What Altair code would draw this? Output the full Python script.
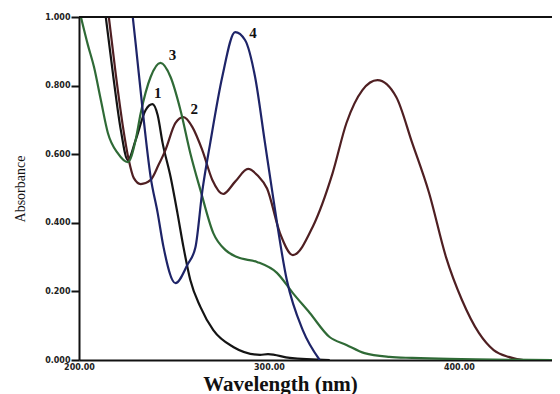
import altair as alt
import pandas as pd

# Curve 1 (black)
wl1 = [214.1, 218.3, 222.0, 225.7, 229.8, 235.1, 238.7, 241.4, 244.0, 248.2, 251.8, 255.0,
       258.6, 263.9, 270.7, 281.2, 295.3, 299.5, 311.0, 332.0]
a1 = [1.0, 0.816, 0.671, 0.583, 0.641, 0.729, 0.746, 0.714, 0.633, 0.534, 0.429, 0.329,
      0.233, 0.155, 0.087, 0.038, 0.015, 0.017, 0.006, 0.0]

# Curve 2 (dark red)
wl2 = [215.7, 219.4, 223.0, 226.2, 228.8, 232.5, 237.7, 241.9, 245.5, 250.8, 255.0, 259.7,
       264.9, 270.2, 275.9, 282.2, 289.0, 294.2, 299.0, 305.8, 312.6, 323.0, 333.5, 340.8,
       349.2, 357.1, 367.0, 375.4, 384.3, 393.2, 401.6, 410.5, 418.3, 426.2, 434.0, 449.0]
a2 = [1.0, 0.831, 0.685, 0.583, 0.531, 0.513, 0.525, 0.569, 0.612, 0.691, 0.708, 0.679,
      0.612, 0.525, 0.484, 0.520, 0.557, 0.537, 0.500, 0.370, 0.306, 0.388, 0.545, 0.691,
      0.787, 0.816, 0.767, 0.633, 0.487, 0.300, 0.175, 0.079, 0.029, 0.009, 0.0, 0.0]

# Curve 3 (green)
wl3 = [201.0, 204.7, 207.9, 211.5, 215.2, 220.4, 225.7, 229.8, 232.5, 237.7, 242.9, 248.2,
       253.4, 258.6, 263.9, 270.7, 277.0, 283.2, 293.7, 304.2, 312.6, 321.5, 331.9, 340.8,
       350.3, 363.4, 375.4, 394.8, 449.0]
a3 = [1.0, 0.918, 0.854, 0.758, 0.662, 0.603, 0.577, 0.641, 0.720, 0.825, 0.866, 0.825,
      0.729, 0.603, 0.496, 0.370, 0.321, 0.300, 0.286, 0.254, 0.195, 0.137, 0.067, 0.044,
      0.020, 0.009, 0.006, 0.003, 0.0]

# Curve 4 (blue)
wl4 = [228.3, 229.8, 233.5, 237.7, 241.4, 244.5, 250.8, 257.0, 261.3, 265.0, 269.1, 275.4,
       282.2, 287.4, 292.7, 297.9, 301.6, 309.4, 317.8, 326.7]
a4 = [1.0, 0.924, 0.729, 0.534, 0.429, 0.329, 0.224, 0.277, 0.329, 0.496, 0.633, 0.825,
      0.956, 0.933, 0.825, 0.633, 0.496, 0.233, 0.087, 0.0]

curve_names = ["1", "2", "3", "4"]
curve_colors = ["#141414", "#4f1f22", "#2f6a36", "#1e2468"]

label_text = ["1", "2", "3", "4"]
label_wl = [241.5, 260.7, 249.2, 291.6]
label_a = [0.778, 0.732, 0.889, 0.953]

rows = []
for name, wls, abss in zip(curve_names, [wl1, wl2, wl3, wl4], [a1, a2, a3, a4]):
    for i, (w, a) in enumerate(zip(wls, abss)):
        rows.append({"curve": name, "wl": w, "abs": a, "order": i})
df = pd.DataFrame(rows)
lab = pd.DataFrame({"t": label_text, "wl": label_wl, "abs": label_a})

xscale = alt.Scale(domain=[200, 449], nice=False, zero=False)
yscale = alt.Scale(domain=[0, 1], nice=False)

lines = alt.Chart(df).mark_line(strokeWidth=2.2, interpolate="monotone", clip=True).encode(
    x=alt.X("wl:Q", scale=xscale,
            axis=alt.Axis(title="Wavelength (nm)", values=[200, 300, 400], format=".2f",
                          labelFont="DejaVu Sans", labelFontWeight="bold", labelFontSize=8,
                          labelColor="#222", ticks=False, labelPadding=3, labelFlush=False,
                          domainColor="#111", domainWidth=2, grid=False,
                          titleFont="Liberation Serif", titleFontSize=21, titleFontWeight="bold",
                          titleColor="#111", titleX=201, titleY=24, titleAlign="center",
                          titleBaseline="middle")),
    y=alt.Y("abs:Q", scale=yscale,
            axis=alt.Axis(title="Absorbance", values=[0, 0.2, 0.4, 0.6, 0.8, 1.0], format=".3f",
                          labelFont="DejaVu Sans", labelFontWeight="bold", labelFontSize=8,
                          labelColor="#222", tickSize=8, tickColor="#111", tickWidth=2,
                          labelPadding=1, labelFlush=False, domainColor="#111", domainWidth=2,
                          grid=False,
                          titleFont="Liberation Serif", titleFontSize=14, titleFontWeight="normal",
                          titleColor="#111", titleX=-59, titleBaseline="middle")),
    color=alt.Color("curve:N", scale=alt.Scale(domain=curve_names, range=curve_colors), legend=None),
    order="order:Q",
)

labels = alt.Chart(lab).mark_text(font="Liberation Serif", fontSize=15, fontWeight="bold",
                                  color="#111", align="center", baseline="middle").encode(
    x=alt.X("wl:Q", scale=xscale), y=alt.Y("abs:Q", scale=yscale), text="t:N")

top = alt.Chart(pd.DataFrame({"y": [1.0]})).mark_rule(color="#111", strokeWidth=2).encode(
    y=alt.Y("y:Q", scale=yscale))

chart = alt.layer(lines, labels, top).properties(
    width=473, height=343,
    autosize=alt.AutoSizeParams(type="none"),
    padding={"left": 71, "top": 9, "right": 0, "bottom": 34},
).configure_view(stroke=None)

chart.save("out.html", embed_options={"renderer": "svg", "actions": False})
